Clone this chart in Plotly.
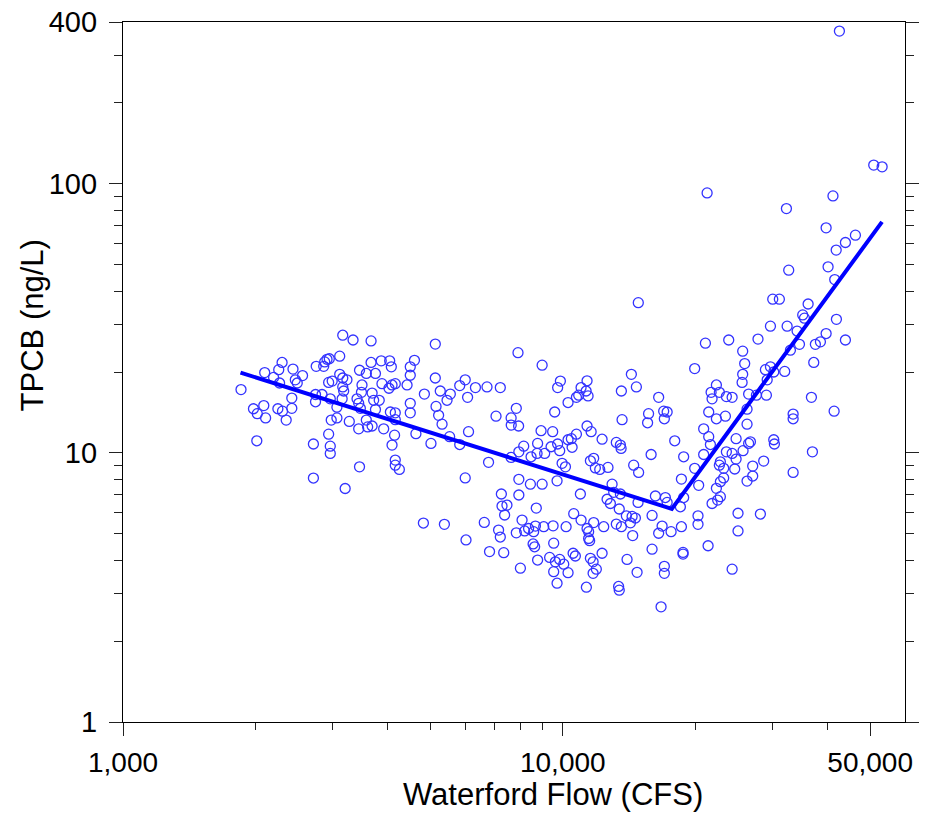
import math
import plotly.graph_objects as go

# ---- data (flow in CFS, TPCB in ng/L) ----
low_flow = [
    1855, 2100, 1980, 2020, 2090, 2110, 2015, 2200, 2260, 2300,
    2270, 2250, 2305, 2350, 2420, 2420, 2435, 2465, 2490, 2560,
    2710, 2710, 2750, 2740, 2740, 2835, 2875, 2910, 2945, 2860,
    2935, 2990, 2960, 2975, 3065, 2935, 2960, 2960, 3110, 3110,
    3160, 3160, 3335, 3160, 3175, 3150, 3065, 3270, 3200, 3230,
    3450, 3495, 3485, 3405, 3435, 3465, 3575, 3435, 3450, 3575,
    3665, 3665, 3750, 3685, 3715, 3750, 3600, 3685, 3825, 3865,
    3880, 3915, 4040, 4075, 4025, 4090, 4160, 4055, 4160, 4160,
    4145, 4090, 4160, 4160, 4250, 4425, 4500, 4600, 4500, 4500,
    4500, 4635, 4845, 5015, 5130, 5150, 5220, 5265, 5130, 5315,
    4820,
]
low_tpcb = [
    17.2, 19.9, 14.6, 14.0, 15.0, 13.5, 11.1, 19.1, 20.4, 21.7,
    18.2, 14.6, 14.3, 13.25, 14.65, 16.0, 20.5, 18.7, 18.2, 19.4,
    10.8, 8.07, 21.0, 16.5, 15.5, 16.5, 21.8, 22.3, 22.4, 21.0,
    18.3, 18.5, 15.9, 13.25, 13.5, 11.75, 10.6, 9.96, 22.9, 19.6,
    19.0, 27.4, 26.3, 17.6, 17.0, 15.9, 14.8, 13.1, 7.38, 18.7,
    20.3, 17.9, 16.8, 15.9, 15.3, 14.65, 13.25, 12.3, 8.88, 19.75,
    21.7, 26.1, 19.75, 16.7, 15.7, 14.5, 12.5, 12.6, 15.7, 22.0,
    18.1, 12.3, 22.0, 20.9, 17.4, 17.9, 18.1, 14.2, 14.1, 13.3,
    11.65, 10.7, 9.41, 9.01, 8.69, 17.9, 20.9, 22.1, 19.45, 15.3,
    14.1, 11.8, 16.55, 10.85, 19.0, 14.9, 13.8, 17.0, 25.4, 12.8,
    5.49,
]

mid_flow = [
    6000, 5830, 6330, 6725, 7210, 6075, 5550, 5455, 5530, 5830,
    6105, 6780, 7050, 7840, 7630, 7635, 7935, 7630, 7945, 8150,
    8470, 8740, 8765, 8925, 9095, 9405, 9485, 9585, 9735, 9875,
    9735, 9840, 9965, 10140, 10280, 10280, 10460, 10500, 10740, 10740,
    10870, 11005, 11355, 11300, 11415, 11355, 11600, 12285, 11555, 11755,
    11860, 12135, 12670, 13235, 13520, 13570, 13640, 13590, 14320, 14700,
    14495, 14875, 14850, 7910, 8975,
]
mid_tpcb = [
    18.7, 17.8, 17.5, 17.6, 17.5, 16.1, 16.55, 15.7, 11.5, 10.75,
    12.0, 9.23, 13.7, 14.65, 13.5, 12.7, 12.6, 9.63, 10.1, 10.6,
    9.68, 9.96, 10.85, 12.1, 9.96, 10.55, 12.0, 14.2, 17.5, 18.5,
    10.8, 10.2, 9.15, 8.88, 15.4, 11.2, 11.3, 10.5, 11.75, 16.1,
    16.4, 17.5, 18.55, 17.0, 16.3, 12.6, 12.0, 11.25, 9.35, 9.55,
    8.80, 8.69, 8.84, 10.95, 10.7, 10.4, 13.3, 17.0, 19.6, 17.6,
    9.01, 8.47, 36.2, 23.6, 21.2,
]

mid_low_flow = [
    6000, 7945, 8440, 8975, 9705, 7250, 7945, 7275, 7465, 7375,
    8705, 6630, 5380, 6025, 6815, 7340, 7145, 7210, 7840, 8080,
    8190, 8360, 8665, 8585, 9050, 9505, 8560, 8630, 9535, 8765,
    8010, 9335, 9620, 9840, 10050, 9535, 10280, 9705, 10175, 10590,
    10965, 11005, 11355, 11450, 11450, 11510, 11755, 12390, 10555, 10680,
    12285, 11555, 11720, 11920, 11720, 11315, 13395, 13440, 12945, 13055,
    13520, 12610, 12830, 13440, 13950, 14375, 14625, 13235, 13590, 14250,
    14420, 14000, 14755, 14830,
]
mid_low_tpcb = [
    8.08, 7.98, 7.66, 7.66, 7.88, 7.04, 6.98, 6.35, 6.40, 5.88,
    6.24, 5.52, 5.43, 4.75, 4.30, 4.26, 5.17, 4.87, 5.05, 5.63,
    5.13, 5.24, 5.35, 5.10, 5.32, 5.36, 4.59, 4.48, 4.62, 4.00,
    3.73, 4.09, 3.94, 4.02, 3.86, 3.62, 3.59, 3.28, 5.32, 5.95,
    7.04, 5.63, 5.24, 5.10, 4.81, 4.72, 5.51, 5.32, 4.24, 4.14,
    4.24, 4.06, 3.94, 3.70, 3.57, 3.17, 3.19, 3.09, 7.66, 7.14,
    7.04, 6.73, 6.49, 6.19, 5.84, 5.81, 5.73, 5.44, 5.32, 5.50,
    4.93, 4.02, 3.60, 6.55,
]

high_flow = [
    42560, 21290, 32250, 41150, 50940, 53230, 39700, 43920, 46280, 41850,
    40110, 41530, 32640, 30020, 31080, 36130, 35120, 35440, 41900, 32370,
    29660, 34100, 39700, 38530, 37530, 43920, 34530, 32930, 37210, 31960,
    27790, 23840, 21100, 25650, 25920, 25650, 25570, 28890, 29660, 30180,
    29160, 19950, 22350, 21740, 22700, 23550, 24270, 26460, 27560, 29040,
    36760, 16520,
]
high_tpcb = [
    370, 92.6, 81.0, 90.3, 117.5, 115.8, 68.7, 60.6, 64.5, 56.8,
    49.2, 44.1, 47.8, 37.3, 37.3, 35.8, 32.6, 31.7, 31.4, 29.6,
    29.6, 28.4, 27.8, 25.9, 25.35, 26.3, 25.35, 24.1, 21.7, 20.1,
    26.5, 26.3, 25.6, 23.9, 21.5, 19.6, 18.3, 20.4, 20.9, 20.0,
    18.7, 20.6, 17.9, 16.8, 16.8, 16.2, 16.1, 16.55, 16.4, 16.4,
    16.1, 16.1,
]

high_low_flow = [
    41400, 33400, 33400, 30180, 30280, 36950, 33400, 28630, 27030, 27030,
    26240, 26710, 26460, 25700, 24780, 24780, 24600, 24270, 23550, 23220,
    22820, 22350, 22820, 22500, 21850, 22700, 22820, 23220, 19950, 20910,
    21660, 21470, 20910, 23430, 22350, 21470, 26240, 26240, 18830, 17970,
    16960, 17270, 17020, 15670, 15590, 15880, 18610, 20370, 18830, 18510,
    16240, 17110, 17270, 15960, 16820, 16520, 17630, 18610, 20300, 20300,
    25030, 28140, 25030, 15960, 18770, 18770, 21400, 24270, 17020, 17020,
    16730, 21850,
]
high_low_tpcb = [
    14.3, 13.95, 13.4, 11.2, 10.8, 10.1, 8.47, 9.33, 8.94, 8.21,
    7.86, 11.0, 10.85, 10.2, 11.3, 9.49, 8.72, 9.96, 10.1, 8.08,
    7.82, 7.39, 6.88, 6.68, 6.49, 9.01, 9.27, 8.77, 8.77, 9.87,
    10.75, 11.5, 12.3, 13.7, 13.4, 14.2, 14.55, 12.8, 9.68, 11.1,
    14.3, 14.2, 13.4, 14.0, 12.95, 9.87, 8.00, 7.58, 6.83, 6.31,
    6.92, 6.83, 6.55, 5.86, 5.35, 5.03, 5.10, 5.32, 5.84, 5.43,
    5.97, 5.93, 5.13, 4.39, 4.27, 4.21, 4.52, 3.70, 3.79, 3.57,
    2.68, 15.9,
]

# segmented regression line (breakpoint near 17,700 CFS)
fit_flow = [1850, 17700, 53200]
fit_tpcb = [19.9, 6.2, 72.3]

x_major = [1000, 10000, 50000]
x_major_text = ["1,000", "10,000", "50,000"]
x_minor = [2000, 3000, 4000, 5000, 6000, 7000, 8000, 9000, 20000, 30000, 40000]
y_major = [1, 10, 100, 400]
y_major_text = ["1", "10", "100", "400"]
y_minor = [2, 3, 4, 5, 6, 7, 8, 9, 20, 30, 40, 50, 60, 70, 80, 90, 200, 300]

x_title = "Waterford Flow (CFS)"
y_title = "TPCB (ng/L)"

# ---- assemble ----
groups = [
    (low_flow, low_tpcb), (mid_flow, mid_tpcb), (mid_low_flow, mid_low_tpcb),
    (high_flow, high_tpcb), (high_low_flow, high_low_tpcb),
]
all_flow, all_tpcb = [], []
for fx, fy in groups:
    assert len(fx) == len(fy)
    all_flow += fx
    all_tpcb += fy

FONT = "Arial, 'Liberation Sans', sans-serif"

fig = go.Figure()
fig.add_trace(go.Scatter(
    x=all_flow, y=all_tpcb, mode="markers",
    marker=dict(symbol="circle-open", size=10, color="#3333ff",
                line=dict(width=1.3, color="#3333ff")),
    showlegend=False, hoverinfo="x+y",
))
fig.add_trace(go.Scatter(
    x=fit_flow, y=fit_tpcb, mode="lines",
    line=dict(color="#0000ff", width=4),
    showlegend=False,
))

fig.update_layout(
    width=941, height=817,
    margin=dict(l=123, r=36, t=22, b=95, autoexpand=False),
    paper_bgcolor="white", plot_bgcolor="white",
    font=dict(family=FONT, color="black"),
    xaxis=dict(
        type="log", range=[3, math.log10(60000)], automargin=False,
        tickmode="array", tickvals=x_major, ticktext=x_major_text,
        ticks="outside", ticklen=13, tickwidth=1.2, tickcolor="#222",
        showline=True, linecolor="black", linewidth=1.3, mirror=True,
        showgrid=False, zeroline=False,
        tickfont=dict(family=FONT, size=28, color="black"),
        ticklabelstandoff=2,
        minor=dict(tickmode="array", tickvals=x_minor, ticks="outside",
                   ticklen=7, tickwidth=1.2, tickcolor="#222", showgrid=False),
    ),
    yaxis=dict(
        type="log", range=[0, math.log10(400)], automargin=False,
        tickmode="array", tickvals=y_major, ticktext=y_major_text,
        ticks="outside", ticklen=13, tickwidth=1.2, tickcolor="#222",
        showline=True, linecolor="black", linewidth=1.3, mirror="ticks",
        showgrid=False, zeroline=False,
        tickfont=dict(family=FONT, size=29, color="black"),
        ticklabelstandoff=6,
        minor=dict(tickmode="array", tickvals=y_minor, ticks="outside",
                   ticklen=8, tickwidth=1.2, tickcolor="#222", showgrid=False),
    ),
    annotations=[
        dict(text=x_title, xref="paper", yref="paper", x=0.55, y=-0.104,
             xanchor="center", yanchor="middle", showarrow=False,
             font=dict(family=FONT, size=31, color="black")),
        dict(text=y_title, xref="paper", yref="paper", x=-0.116, y=0.567,
             xanchor="center", yanchor="middle", showarrow=False, textangle=-90,
             font=dict(family=FONT, size=31, color="black")),
    ],
)

fig.write_html("out.html")
